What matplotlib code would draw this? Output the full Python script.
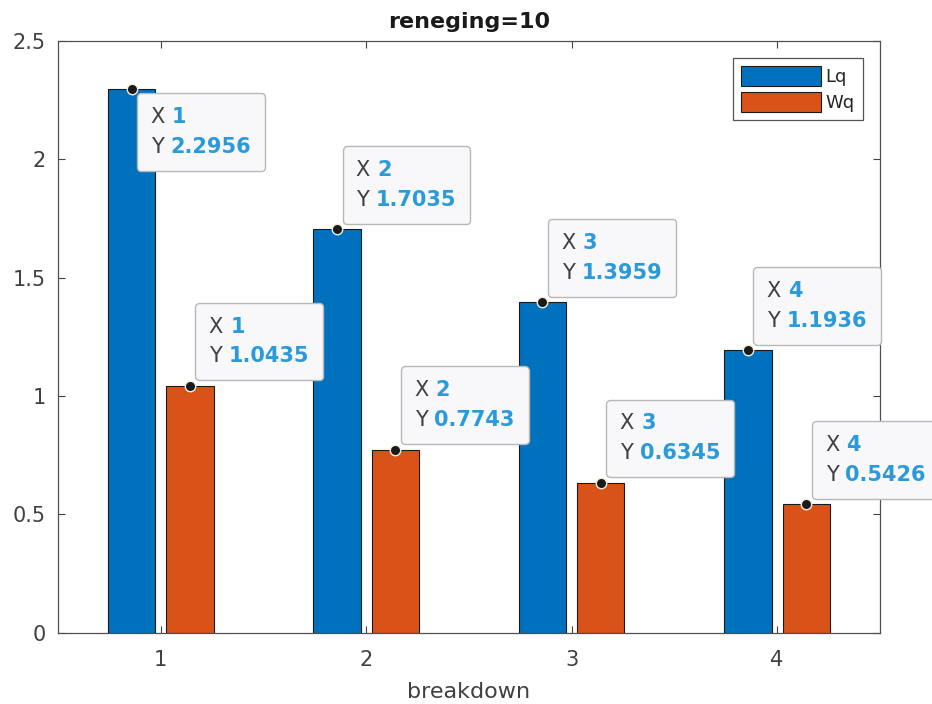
import matplotlib
matplotlib.use("Agg")
import matplotlib.pyplot as plt
from matplotlib.offsetbox import TextArea, HPacker, VPacker, AnnotationBbox
import numpy as np

categories = [1, 2, 3, 4]
lq_values = [2.2956, 1.7035, 1.3959, 1.1936]
wq_values = [1.0435, 0.7743, 0.6345, 0.5426]
series_names = ["Lq", "Wq"]
yticks = [0, 0.5, 1, 1.5, 2, 2.5]

plt.rcParams['font.family'] = ['DejaVu Sans']
fig = plt.figure(figsize=(9.32, 7.04), dpi=100)
ax = fig.add_axes([0.0622, 0.101, 0.8818, 0.841])

x = np.array(categories, dtype=float)
bw = 0.23
off = 0.142
ax.bar(x - off, lq_values, bw, color='#0072BD', edgecolor='#1a1a1a', linewidth=0.8, label=series_names[0], zorder=2)
ax.bar(x + off, wq_values, bw, color='#D95319', edgecolor='#1a1a1a', linewidth=0.8, label=series_names[1], zorder=2)

ax.set_xlim(0.5, 4.5)
ax.set_ylim(0, 2.5)
ax.set_xticks(categories)
ax.set_xticklabels([str(c) for c in categories])
ax.set_yticks(yticks)
ax.set_yticklabels([f"{t:g}" for t in yticks])
ax.tick_params(direction='in', top=True, right=True, labelsize=15, colors='#404040', length=5, width=0.8)
ax.tick_params(axis='y', pad=9)
ax.tick_params(axis='x', pad=12)
for s in ax.spines.values():
    s.set_color('#505050')
    s.set_linewidth(0.9)
ax.set_xlabel('breakdown', fontsize=16, color='#404040', labelpad=9)
ax.set_title('reneging=10', fontsize=16, fontweight='bold', color='#1a1a1a', pad=9)

leg = ax.legend(loc='upper right', fontsize=13, handlelength=4.4, handleheight=1.3,
                fancybox=False, edgecolor='#555555', framealpha=1, borderaxespad=0.95,
                handletextpad=0.25, borderpad=0.45, labelspacing=0.35)
leg.get_frame().set_linewidth(0.9)
for t in leg.get_texts():
    t.set_color('#262626')

def datatip(xv, yv, xlabel, below=False):
    fs = 15
    r1 = HPacker(children=[TextArea("X ", textprops=dict(color='#404040', fontsize=fs)),
                           TextArea(xlabel, textprops=dict(color='#2B9ADB', fontsize=fs, fontweight='bold'))],
                 align='baseline', pad=0, sep=0)
    r2 = HPacker(children=[TextArea("Y ", textprops=dict(color='#404040', fontsize=fs)),
                           TextArea(f"{yv:.4f}", textprops=dict(color='#2B9ADB', fontsize=fs, fontweight='bold'))],
                 align='baseline', pad=0, sep=0)
    vp = VPacker(children=[r1, r2], align='left', pad=5, sep=7)
    if below:
        xybox = (9, -8)
        align = (0, 1)
    else:
        xybox = (9, 9)
        align = (0, 0)
    ab = AnnotationBbox(vp, (xv, yv), xybox=xybox, boxcoords='offset points',
                        box_alignment=align, pad=0.5, frameon=True,
                        bboxprops=dict(boxstyle='round,pad=0.5,rounding_size=0.3',
                                       fc='#f8f8fa', ec='#b8b8b8', lw=1.0),
                        annotation_clip=False, zorder=5)
    ax.add_artist(ab)
    ax.plot([xv], [yv], 'o', color='#1a1a1a', markersize=7.5, markeredgecolor='#f0f0e0',
            markeredgewidth=1.0, zorder=6, clip_on=False)

for i, c in enumerate(categories):
    datatip(c - off, lq_values[i], str(c), below=(i == 0))
    datatip(c + off, wq_values[i], str(c), below=False)

fig.savefig('out.png', dpi=100)
